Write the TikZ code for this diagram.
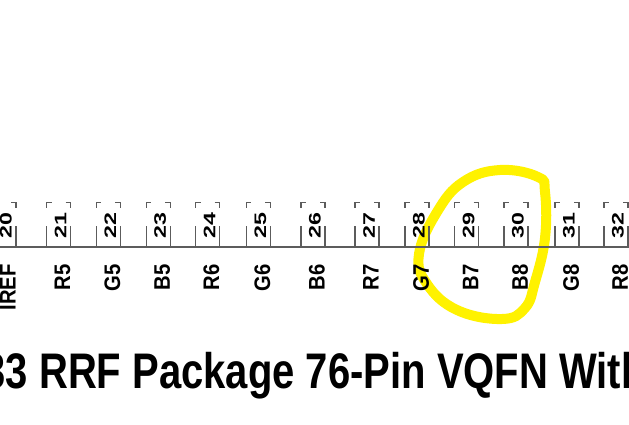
\documentclass[tikz,border=0pt]{standalone}
\usepackage{fontspec}
\setmainfont{Liberation Sans}
\usepackage{xcolor}
\definecolor{railgray}{HTML}{5C5C5C}

\begin{document}
\begin{tikzpicture}[x=1pt,y=-1pt,
	pinbox/.style={railgray,line width=1.2pt,dash pattern=on 21pt off 18.5pt on 10pt off 14pt on 10pt off 18.5pt on 21pt off 0pt},
	pinnum/.style={rotate=90,inner sep=0pt,font=\bfseries\fontsize{14.5}{15}\selectfont},
	pinlab/.style={rotate=90,anchor=east,inner sep=0pt,font=\bfseries\fontsize{22.5}{23}\selectfont}]
	\useasboundingbox (0,0) rectangle (629,425);
	% (highlight)
	\draw[yellow,line width=10pt] plot[smooth cycle,tension=0.7] coordinates {(500,170) (463,182) (437,212) (419,254) (427,284) (457,310) (502,319) (525,308) (535,282) (545,238) (545,192) (538,177)};
	\draw[railgray,line width=2pt] (0,247) -- (629,247);
	\foreach \n/\x/\s in {20/4/IREF,21/58.5/R5,22/108.3/G5,23/158.2/B5,24/207.5/R6,25/258.3/G6,26/313/B6,27/367/R7,28/417/G7,29/466.7/B7,30/516/B8,31/567/G8,32/616/R8}
	{
		\draw[pinbox] (\x-12,247) -- (\x-12,202.5) -- (\x+12,202.5) -- (\x+12,247);
		\node[pinnum] (num\n) at (\x+2,225.5) {\scalebox{1.6}[1.15]{\n}};
		\node[pinlab] (lab\n) at (\x+4,264) {\scalebox{0.9}[1]{\s}};
	}
	\node[anchor=base west,inner sep=0pt,font=\bfseries\fontsize{50}{50}\selectfont] (caption) at (-16.6,388) {\scalebox{0.8}[1]{33 RRF Package 76-Pin VQFN With}};
\end{tikzpicture}
\end{document}
